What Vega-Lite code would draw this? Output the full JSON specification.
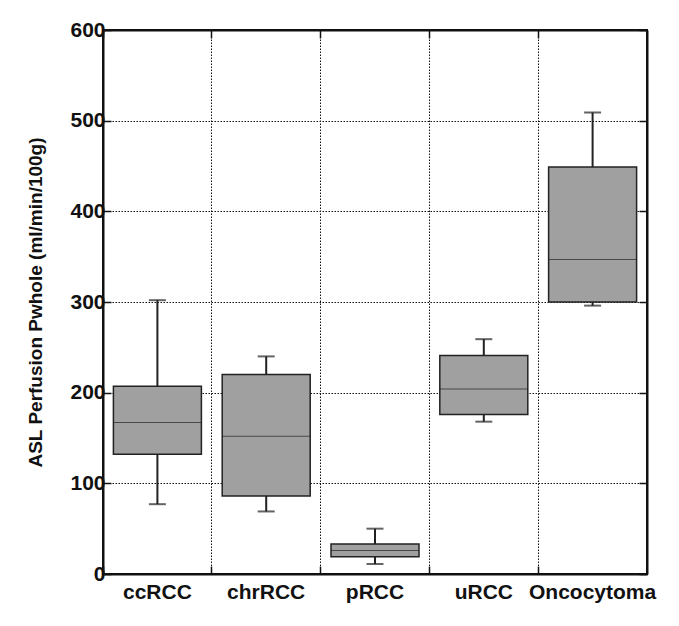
{
  "$schema": "https://vega.github.io/schema/vega-lite/v6.json",
  "width": 544,
  "height": 544,
  "autosize": "none",
  "padding": {"left": 103, "top": 30, "right": 32, "bottom": 52},
  "background": "white",
  "config": {
    "view": {"stroke": "#111", "strokeWidth": 2},
    "font": "Liberation Sans",
    "axis": {
      "labelFont": "Liberation Sans",
      "labelFontSize": 21,
      "labelFontWeight": "bold",
      "labelColor": "#111",
      "titleFont": "Liberation Sans",
      "titleFontSize": 19,
      "titleFontWeight": "bold",
      "titleColor": "#111",
      "domainColor": "#111",
      "domainWidth": 2,
      "tickColor": "#111",
      "tickWidth": 1.5,
      "gridColor": "#111",
      "gridWidth": 1,
      "gridDash": [1.5, 1.5],
      "gridOpacity": 1
    }
  },
  "data": {
    "values": [
      {"type": "ccRCC", "lower": 77, "q1": 132, "median": 167, "q3": 207, "upper": 302},
      {"type": "chrRCC", "lower": 69, "q1": 86, "median": 152, "q3": 220, "upper": 240},
      {"type": "pRCC", "lower": 11, "q1": 19, "median": 26, "q3": 33, "upper": 50},
      {"type": "uRCC", "lower": 168, "q1": 176, "median": 204, "q3": 241, "upper": 259},
      {"type": "Oncocytoma", "lower": 296, "q1": 300, "median": 347, "q3": 449, "upper": 509}
    ]
  },
  "layer": [
    {
      "mark": {"type": "rule", "color": "#222", "strokeWidth": 2},
      "encoding": {
        "x": {
          "field": "type",
          "type": "nominal",
          "sort": ["ccRCC", "chrRCC", "pRCC", "uRCC", "Oncocytoma"],
          "scale": {"paddingInner": 0, "paddingOuter": 0},
          "axis": {
            "orient": "bottom",
            "title": null,
            "labelAngle": 0,
            "bandPosition": 0,
            "tickSize": -8,
            "labelPadding": 15,
            "grid": true,
            "domain": true
          }
        },
        "y": {
          "field": "lower",
          "type": "quantitative",
          "scale": {"domain": [0, 600], "nice": false},
          "axis": {
            "orient": "left",
            "title": "ASL Perfusion Pwhole (ml/min/100g)",
            "values": [0, 100, 200, 300, 400, 500, 600],
            "tickSize": -8,
            "labelPadding": 6,
            "titlePadding": 24,
            "grid": true
          }
        },
        "y2": {"field": "upper"}
      }
    },
    {
      "mark": {"type": "bar", "size": 88, "fill": "#a0a0a0", "stroke": "#222", "strokeWidth": 1.5},
      "encoding": {
        "x": {
          "field": "type",
          "type": "nominal",
          "sort": ["ccRCC", "chrRCC", "pRCC", "uRCC", "Oncocytoma"],
          "scale": {"paddingInner": 0, "paddingOuter": 0},
          "axis": {
            "orient": "top",
            "title": null,
            "labels": false,
            "bandPosition": 0,
            "tickSize": -8,
            "grid": false
          }
        },
        "y": {
          "field": "q1",
          "type": "quantitative",
          "axis": {
            "orient": "right",
            "title": null,
            "labels": false,
            "values": [0, 100, 200, 300, 400, 500, 600],
            "tickSize": -8,
            "grid": false
          }
        },
        "y2": {"field": "q3"}
      }
    },
    {
      "mark": {"type": "tick", "size": 88, "thickness": 1, "color": "#222"},
      "encoding": {
        "x": {"field": "type", "type": "nominal", "sort": ["ccRCC", "chrRCC", "pRCC", "uRCC", "Oncocytoma"], "axis": null},
        "y": {"field": "median", "type": "quantitative", "axis": null}
      }
    },
    {
      "mark": {"type": "tick", "size": 17, "thickness": 2, "color": "#222"},
      "encoding": {
        "x": {"field": "type", "type": "nominal", "sort": ["ccRCC", "chrRCC", "pRCC", "uRCC", "Oncocytoma"], "axis": null},
        "y": {"field": "lower", "type": "quantitative", "axis": null}
      }
    },
    {
      "mark": {"type": "tick", "size": 17, "thickness": 2, "color": "#222"},
      "encoding": {
        "x": {"field": "type", "type": "nominal", "sort": ["ccRCC", "chrRCC", "pRCC", "uRCC", "Oncocytoma"], "axis": null},
        "y": {"field": "upper", "type": "quantitative", "axis": null}
      }
    }
  ]
}
